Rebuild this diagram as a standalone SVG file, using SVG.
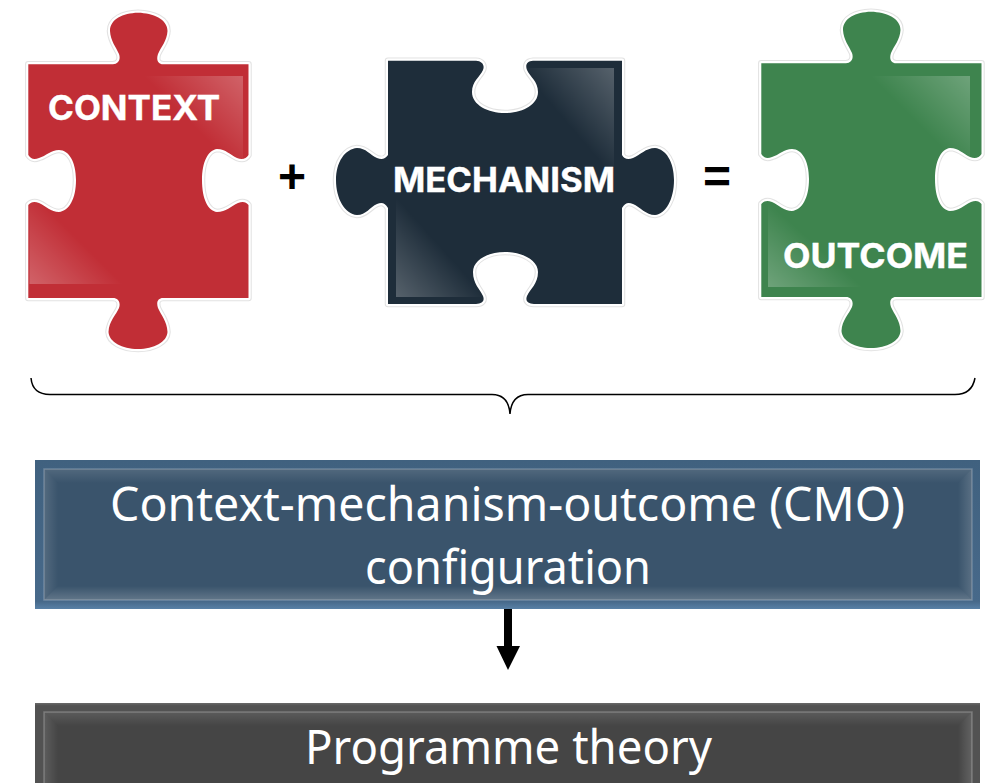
<svg xmlns="http://www.w3.org/2000/svg" xmlns:xlink="http://www.w3.org/1999/xlink" width="987" height="783" viewBox="0 0 987 783">
<style>
.halo{fill:none;stroke:#d8d8d8;stroke-width:6.5;stroke-linejoin:round;opacity:.75}
.edge{fill:none;stroke:#fff;stroke-width:4.4;stroke-linejoin:round}
.lab{font-family:"Inter","Open Sans","Liberation Sans",sans-serif;font-weight:700;font-size:33.5px;fill:#fff;stroke:#fff;stroke-width:.4}
.big{font-family:"Noto Sans","Open Sans",sans-serif;font-size:46.5px;fill:#fff;text-anchor:middle}
.op{font-family:"Liberation Sans",Arial,sans-serif;font-weight:700;font-size:48px;fill:#000;text-anchor:middle}
.line{fill:none;stroke:#fff;stroke-opacity:.22;stroke-width:1.5}
</style>
<defs>
<path id="knob" d="M28.3 64.3H113C118 64 121 60 119 54C116 47 110.500 41 110 31C110 19 123 13 138 12.700C153 13 167.500 19 167.500 31C167 41 161 47 158 54C156 60 158 64 163 64.300H248.500V155C246 159 242 160 237 158C230 155 226 149 217 149C208 150 202 162 202 180C202 199 208 211 217 212C226 212 231 206 238 203C243 201 246 202 248.500 205V298H163C158 298 156 302 158 308C161 315 167 321 167.500 332C167 342 154 349 138 349C122 349 109 342 108.500 332C109 321 116 315 119 308C121 302 118 298 113 298H28.300V205C31 202 34 201 39 203C46 206 51 212 59 212C69 211 76 199 76 180C76 162 69 150 59 150C51 150 46 156 39 158C34 160 31 159 28.300 155Z"/>
<path id="mech" d="M388 60.700H476C482 61 485 65 483 70C480 77 472 81 472 92C472 105 488 113 505 113C522 113 538 105 538 92C538 81 530 77 527 70C525 65 527 61 533 60.700H622V155C624 159 628 160 633 158C640 155 646 148 655 148C666 149 674 162 674 180C674 199 666 214 655 215C646 215 640 207 633 204C628 202 625 203 622 208V304H534C528 304 525 301 527 296C530 289 538 284 538 272C538 260 522 252 505 252C488 252 473 260 473 272C473 284 480 289 483 296C485 301 482 304 476 304H388V208C385 203 382 202 377 204C370 207 366 215 357 215C345 214 336 199 336 180C336 162 345 149 357 148C366 148 370 155 377 158C382 160 385 159 388 155Z"/>
<clipPath id="knobClip"><use xlink:href="#knob"/></clipPath>
<clipPath id="mechClip"><use xlink:href="#mech"/></clipPath>
<linearGradient id="glossTR" x1="1" y1="0" x2="0.500" y2="0.500"><stop offset="0" stop-color="#fff" stop-opacity=".25"/><stop offset="1" stop-color="#fff" stop-opacity="0"/></linearGradient>
<linearGradient id="glossBL" x1="0" y1="1" x2="0.500" y2="0.500"><stop offset="0" stop-color="#fff" stop-opacity=".25"/><stop offset="1" stop-color="#fff" stop-opacity="0"/></linearGradient>
<linearGradient id="blueOuter" x1="0" y1="0" x2="0" y2="1"><stop offset="0" stop-color="#40617f"/><stop offset=".95" stop-color="#47698a"/><stop offset="1" stop-color="#5880a6"/></linearGradient>
<linearGradient id="greyOuter" x1="0" y1="0" x2="0" y2="1"><stop offset="0" stop-color="#6a6a6a"/><stop offset=".03" stop-color="#525252"/><stop offset="1" stop-color="#525252"/></linearGradient>
<linearGradient id="bT" x1="0" y1="0" x2="0" y2="1"><stop offset="0" stop-color="#fff" stop-opacity=".12"/><stop offset="1" stop-color="#fff" stop-opacity="0"/></linearGradient>
<linearGradient id="bB" x1="0" y1="1" x2="0" y2="0"><stop offset="0" stop-color="#fff" stop-opacity=".2"/><stop offset="1" stop-color="#fff" stop-opacity="0"/></linearGradient>
<linearGradient id="bL" x1="0" y1="0" x2="1" y2="0"><stop offset="0" stop-color="#fff" stop-opacity=".13"/><stop offset="1" stop-color="#fff" stop-opacity="0"/></linearGradient>
<linearGradient id="bR" x1="1" y1="0" x2="0" y2="0"><stop offset="0" stop-color="#fff" stop-opacity=".16"/><stop offset="1" stop-color="#fff" stop-opacity="0"/></linearGradient>
<g id="bevel">
<polygon points="44,469 972,469 958,483 58,483" fill="url(#bT)"/>
<polygon points="44,600 972,600 958,586 58,586" fill="url(#bB)"/>
<polygon points="44,469 58,483 58,586 44,600" fill="url(#bL)"/>
<polygon points="972,469 958,483 958,586 972,600" fill="url(#bR)"/>
<rect class="line" x="44" y="469" width="928" height="131"/>
</g>
</defs>

<g id="context">
<use xlink:href="#knob" class="halo"/><use xlink:href="#knob" class="edge"/>
<use xlink:href="#knob" fill="#c12e36"/>
<g clip-path="url(#knobClip)">
<rect x="143" y="76" width="100" height="100" fill="url(#glossTR)"/>
<rect x="29.500" y="190" width="94" height="94" fill="url(#glossBL)"/>
</g>
<text class="lab" x="48" y="120" textLength="172" lengthAdjust="spacingAndGlyphs">CONTEXT</text>
</g>

<text id="plus" class="op" x="292" y="193">+</text>

<g id="mechanism">
<use xlink:href="#mech" class="halo"/><use xlink:href="#mech" class="edge"/>
<use xlink:href="#mech" fill="#1e2d3a"/>
<g clip-path="url(#mechClip)">
<rect x="520" y="68" width="94" height="110" fill="url(#glossTR)"/>
<rect x="396" y="197" width="90" height="100" fill="url(#glossBL)"/>
</g>
<text class="lab" x="393" y="191.500" textLength="222" lengthAdjust="spacingAndGlyphs">MECHANISM</text>
</g>

<text id="equals" class="op" x="717" y="193">=</text>

<g id="outcome">
<g transform="translate(733 -1)">
<use xlink:href="#knob" class="halo"/><use xlink:href="#knob" class="edge"/>
<use xlink:href="#knob" fill="#3e844e"/>
<g clip-path="url(#knobClip)">
<rect x="137" y="77" width="100" height="100" fill="url(#glossTR)"/>
<rect x="35" y="203" width="95" height="85" fill="url(#glossBL)"/>
</g>
</g>
<text class="lab" x="783" y="268" textLength="185" lengthAdjust="spacingAndGlyphs">OUTCOME</text>
</g>

<g id="connectors">
<path id="brace" d="M31 378C32 389 38 394.500 50 394.500H492C503 394.500 509 401 510 414C511 401 517 394.500 528 394.500H955C967 394.500 973 389 975 378" fill="none" stroke="#000" stroke-width="1.500"/>
<path id="arrow" d="M504 609H512V646H520L508 670L496.500 646H504Z" fill="#000"/>
</g>

<g id="cmo">
<rect x="35" y="460" width="945" height="149" fill="url(#blueOuter)"/>
<rect x="44" y="469" width="928" height="131" fill="#3a546c"/>
<use xlink:href="#bevel"/>
<text class="big" x="507.500" y="521" textLength="795" lengthAdjust="spacingAndGlyphs">Context-mechanism-outcome (CMO)</text>
<text class="big" x="508" y="584" textLength="286" lengthAdjust="spacingAndGlyphs">configuration</text>
</g>

<g id="theory">
<rect x="35" y="703" width="945" height="90" fill="url(#greyOuter)"/>
<rect x="44" y="712" width="928" height="81" fill="#454545"/>
<g transform="translate(0 243)"><use xlink:href="#bevel"/></g>
<text class="big" x="508.500" y="764" textLength="407" lengthAdjust="spacingAndGlyphs">Programme theory</text>
</g>
</svg>
